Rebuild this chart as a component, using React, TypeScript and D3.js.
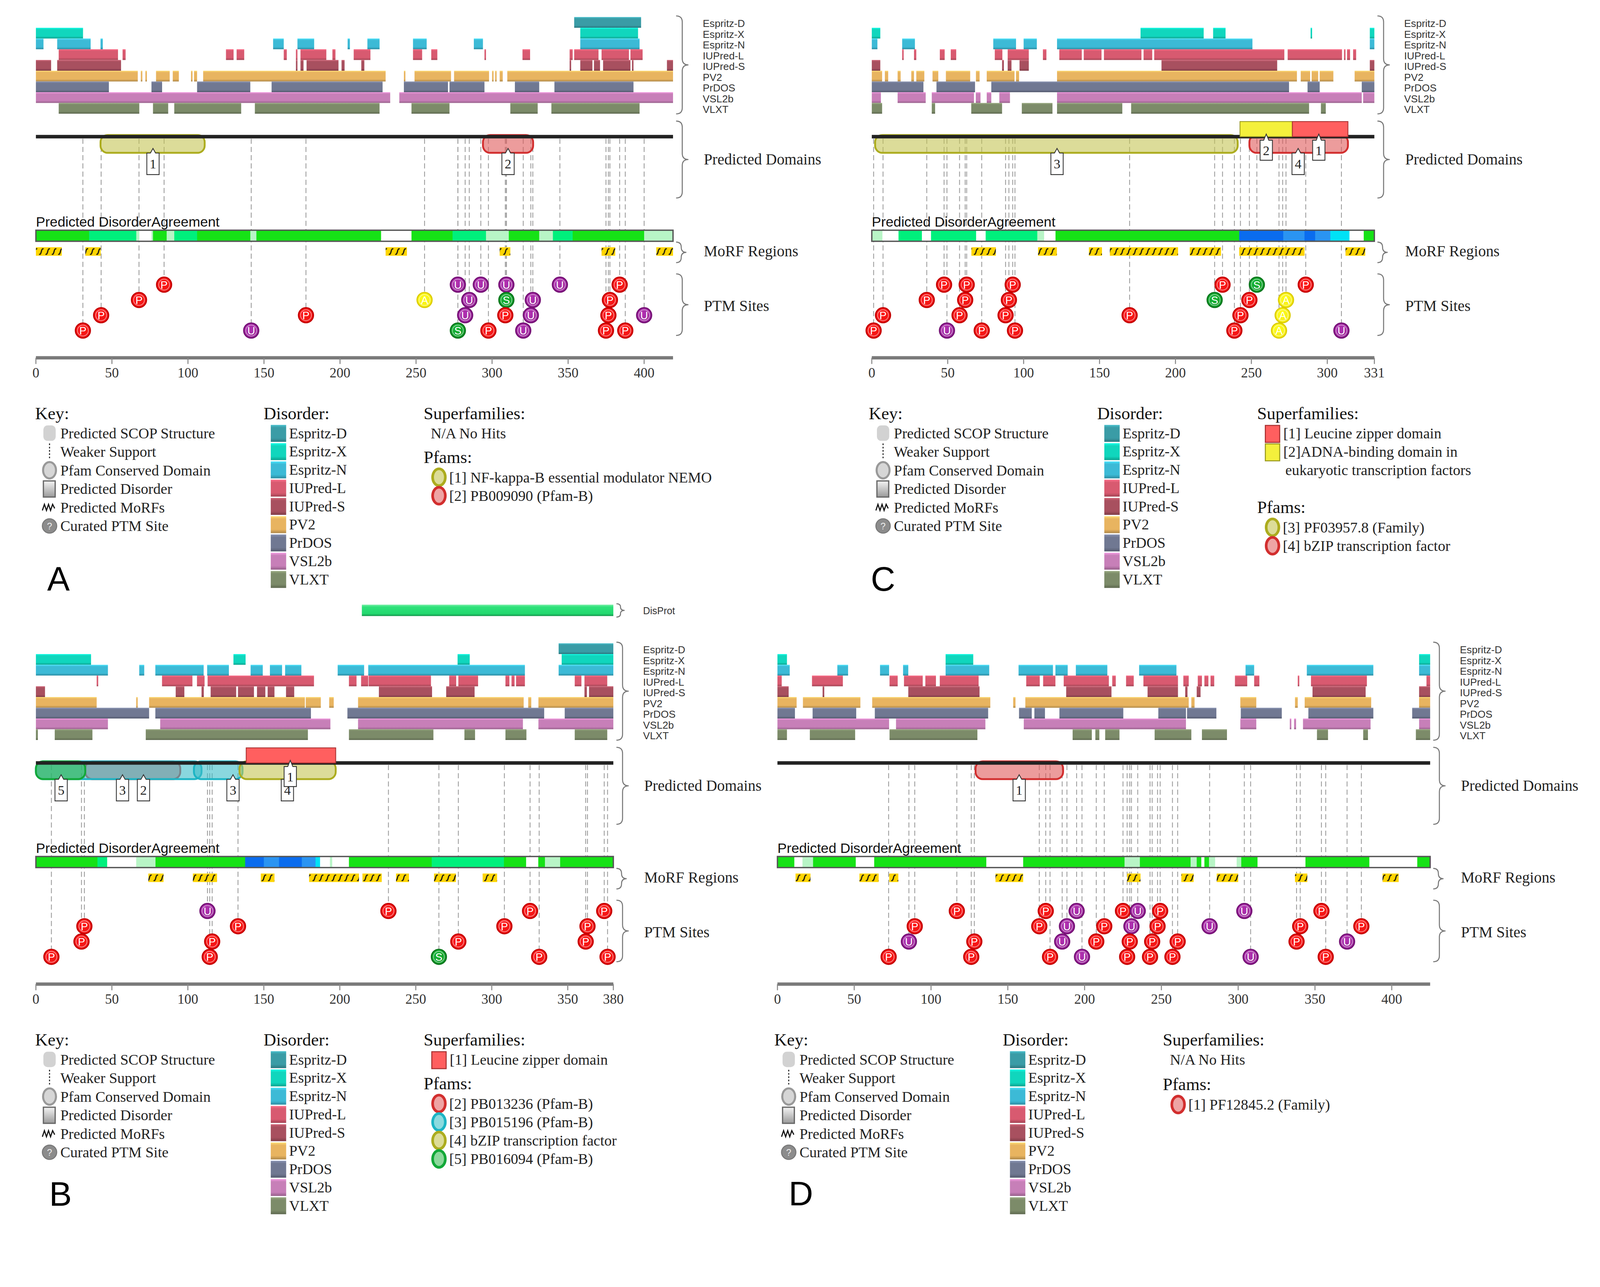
import * as d3 from 'd3';

type Seg = [number, number];
type Agree = [number, number, number]; // start, end, agreement level
type Ptm = [number, number, string]; // position, row, type
type Dom = [number, number, number, string, number]; // start, end, id, family, label position
type LegendEntry = [number, string, string]; // id, text, family

// ---------- shared ----------
const predictorNames = ['Espritz-D', 'Espritz-X', 'Espritz-N', 'IUPred-L', 'IUPred-S', 'PV2', 'PrDOS', 'VSL2b', 'VLXT'];
const predictorColors = ['#3a9ca6', '#10d6bd', '#3cbad6', '#d85a70', '#a8505f', '#e8b460', '#707892', '#c77fb8', '#7c8b69'];
const keyItems = ['Predicted SCOP Structure', 'Weaker Support', 'Pfam Conserved Domain', 'Predicted Disorder', 'Predicted MoRFs', 'Curated PTM Site'];

// ---------- panel A ----------
const lengthA = 419;
const ticksA = [0, 50, 100, 150, 200, 250, 300, 350, 400];
const tracksA: Seg[][] = [
  [[354, 398]],
  [[0, 31], [358, 396]],
  [[0, 5], [14, 36], [42.5, 44], [156, 163], [172, 183], [205, 206.5], [218, 226], [248, 257], [288, 294], [358, 397]],
  [[15, 54], [57, 59], [125, 130], [132, 137], [163, 165], [171, 172], [174, 191], [195, 197], [209, 220], [248, 254], [260, 264], [295, 296], [320, 325], [351, 353], [354, 370], [372, 390], [391, 399]],
  [[0, 10], [14, 56], [171, 172], [174, 176], [178, 199], [201, 203], [214, 216], [351, 352], [358, 366], [367, 371], [373, 391], [392, 393], [415, 419]],
  [[0, 67], [69, 70], [72, 73], [79, 88], [90, 94], [102, 103], [104, 106], [110, 230], [242, 243], [249, 273], [275, 298], [300, 301], [302, 303], [305, 307], [310, 419]],
  [[0, 48], [76, 83], [106, 141], [155, 228], [242, 271], [272, 295], [315, 331], [341, 393]],
  [[0, 233], [239, 419]],
  [[15, 68], [77, 87], [91, 135], [144, 226], [247, 272], [312, 330], [339, 397]],
];
const agreeA: Agree[] = [
  [0, 35, 3], [35, 66, 2], [66, 68, 1], [68, 76, 0], [76, 77, 1], [77, 86, 3], [86, 91, 1], [91, 106, 2],
  [106, 141, 3], [141, 145, 1], [145, 200, 3], [200, 227, 3], [227, 247, 0], [247, 274, 3], [274, 296, 2],
  [296, 311, 1], [311, 331, 3], [331, 340, 1], [340, 353, 2], [353, 400, 3], [400, 419, 1],
];
const morfA: Seg[] = [[0, 17], [32.5, 42.6], [230, 244], [305, 312], [372, 381], [408, 419]];
const ptmA: Ptm[] = [
  [84.3, 0, 'P'], [277.5, 0, 'U'], [292.6, 0, 'U'], [309.4, 0, 'U'], [344.6, 0, 'U'], [383.9, 0, 'P'],
  [67.8, 1, 'P'], [255.6, 1, 'A'], [285, 1, 'U'], [309.4, 1, 'S'], [326.8, 1, 'U'], [377.5, 1, 'P'],
  [42.9, 2, 'P'], [177.6, 2, 'P'], [282.3, 2, 'U'], [308.7, 2, 'P'], [325.5, 2, 'U'], [376.5, 2, 'P'], [400, 2, 'U'],
  [30.9, 3, 'P'], [141.6, 3, 'U'], [277.5, 3, 'S'], [297.6, 3, 'P'], [320.5, 3, 'U'], [374.9, 3, 'P'], [387.6, 3, 'P'],
];
const pfamA: Dom[] = [[42.5, 111, 1, 'olive', 77], [294, 327, 2, 'red', 310.5]];
const superA: Dom[] = [];
const superLegendA: LegendEntry[] = [];
const pfamLegendA: LegendEntry[] = [[1, 'NF-kappa-B essential modulator NEMO', 'olive'], [2, 'PB009090 (Pfam-B)', 'red']];

// ---------- panel C ----------
const lengthC = 331;
const ticksC = [0, 50, 100, 150, 200, 250, 300, 331];
const tracksC: Seg[][] = [
  [],
  [[0, 5.6], [177, 218.6], [224.8, 233], [289, 290], [328, 331]],
  [[0, 3.7], [20, 28.4], [80, 95], [100, 108.7], [122, 250.7], [328, 331]],
  [[20, 21], [27.8, 29.3], [44.8, 48], [52, 55.6], [81, 86], [89.5, 103.4], [112.7, 115], [123.5, 138.3], [139.6, 151.3], [152.9, 177.6], [179, 184.7], [186, 271.7], [273.9, 309.7], [311, 312], [313, 315], [317, 319]],
  [[0, 5.6], [85.8, 87], [89.5, 92], [97.3, 103.4], [190.8, 267], [328, 331]],
  [[0, 6.8], [8.6, 10.8], [17, 19], [26, 27.8], [29.3, 34.6], [40, 43.8], [48.8, 64.8], [68.6, 71], [75.7, 94], [95, 97], [122, 280], [282.5, 288.7], [289.7, 294], [295, 304], [318, 331]],
  [[0, 34], [42.6, 68], [78.7, 274.8], [287, 295], [322.7, 331]],
  [[0, 6], [17, 35.5], [39.5, 67.3], [68.5, 71.6], [75.7, 78.7], [84, 91], [122, 322.7], [323.6, 331]],
  [[0, 6.8], [39.5, 41.7], [65.5, 85.8], [98.8, 119], [122, 165], [170.8, 288], [295.8, 299]],
];
const agreeC: Agree[] = [
  [0, 7, 1], [7, 17.6, 0], [17.6, 33, 2], [33, 39, 0], [39, 68.7, 2], [68.7, 75, 0], [75, 109, 2], [109, 113.5, 1],
  [113.5, 121, 0], [121, 242, 3], [242, 271, 5], [271, 285, 6], [285, 292, 5], [292, 302, 6], [302, 314.6, 4],
  [314.6, 324, 0], [324, 331, 3],
];
const morfC: Seg[] = [[65.6, 81.7], [109.5, 121.9], [143, 151.6], [156.8, 201.7], [209.4, 230], [242, 285], [312, 325]];
const ptmC: Ptm[] = [
  [47.6, 0, 'P'], [62.5, 0, 'P'], [92.8, 0, 'P'], [231, 0, 'P'], [253.6, 0, 'S'], [285.8, 0, 'P'],
  [36.2, 1, 'P'], [61.5, 1, 'P'], [90.3, 1, 'P'], [225.8, 1, 'S'], [248.7, 1, 'P'], [272.8, 1, 'A'],
  [7.4, 2, 'P'], [57.8, 2, 'P'], [88.1, 2, 'P'], [169.8, 2, 'P'], [242.8, 2, 'P'], [270.6, 2, 'A'],
  [1.2, 3, 'P'], [49.5, 3, 'U'], [72.4, 3, 'P'], [94.3, 3, 'P'], [238.8, 3, 'P'], [268.2, 3, 'A'], [309.3, 3, 'U'],
];
const pfamC: Dom[] = [[2.2, 241, 3, 'olive', 122], [248.7, 313.6, 4, 'red', 280.8]];
const superC: Dom[] = [[242.5, 277, 2, 'yellow', 259.8], [277, 313.6, 1, 'red', 294.4]];
const superLegendC: LegendEntry[] = [[1, 'Leucine zipper domain', 'red'], [2, 'ADNA-binding domain in|eukaryotic transcription factors', 'yellow']];
const pfamLegendC: LegendEntry[] = [[3, 'PF03957.8 (Family)', 'olive'], [4, 'bZIP transcription factor', 'red']];

// ---------- panel B ----------
const lengthB = 380;
const ticksB = [0, 50, 100, 150, 200, 250, 300, 350, 380];
const disprotB: Seg[] = [[214.5, 380]];
const tracksB: Seg[][] = [
  [[344, 380]],
  [[0, 36.3], [130, 138], [277.5, 285.5], [346, 380]],
  [[0, 47.4], [68, 71.3], [78.6, 110.4], [112.7, 127], [141.3, 149.3], [154, 162], [164, 174.7], [198.6, 216], [218.7, 321.8], [344, 380]],
  [[40, 41], [83, 103], [106, 111], [113, 183], [206, 211], [214, 218.7], [219, 260], [272, 276.6], [278, 291], [309, 311.6], [313, 315], [316, 321.8], [354.6, 359], [361, 376]],
  [[0, 6], [92, 97.7], [109, 110.5], [115, 131.8], [133, 143.5], [145.5, 151], [152.5, 157], [164.6, 170], [225.7, 260.7], [270, 288.7], [361, 362.6], [364, 380]],
  [[0, 40], [66, 67], [74.5, 177], [177.6, 187.5], [193, 196], [212, 321], [324, 326], [330.7, 380]],
  [[0, 74.5], [78.6, 181], [205, 334.5], [348, 380]],
  [[0, 47.4], [81.8, 193.8], [212, 320.5], [330.7, 380]],
  [[0, 1.3], [12.4, 37.2], [72.3, 179], [206, 261.6], [282, 289], [309, 322.8], [354.6, 376]],
];
const agreeB: Agree[] = [
  [0, 40.5, 3], [40.5, 46.9, 2], [46.9, 66, 0], [66, 78.7, 1], [78.7, 137.7, 3], [137.7, 150, 5], [150, 160, 6],
  [160, 175, 5], [175, 184, 6], [184, 187, 4], [187, 193.5, 0], [193.5, 195, 1], [195, 206, 0], [206, 260.5, 3],
  [260.5, 290.7, 2], [290.7, 308, 2], [308, 322.6, 3], [322.6, 330.6, 0], [330.6, 335, 3], [335, 345, 1], [345, 380, 3],
];
const morfB: Seg[] = [[74, 84], [103.3, 119.2], [148, 157], [179.8, 212.6], [214.9, 227.6], [237, 245.5], [262, 276.4], [294, 303.5]];
const ptmB: Ptm[] = [
  [112.9, 0, 'U'], [232, 0, 'P'], [325.2, 0, 'P'], [374, 0, 'P'],
  [31.9, 1, 'P'], [133, 1, 'P'], [308.3, 1, 'P'], [363, 1, 'P'],
  [30, 2, 'P'], [116, 2, 'P'], [278, 2, 'P'], [361.8, 2, 'P'],
  [10.2, 3, 'P'], [114.4, 3, 'P'], [265.2, 3, 'S'], [331.2, 3, 'P'], [376.2, 3, 'P'],
];
const pfamB: Dom[] = [
  [32.5, 95, 2, 'red', 70.8], [0, 109, 3, 'cyan', 57], [104, 136, 3, 'cyan', 129.7],
  [0, 32.5, 5, 'green', 16.6], [134, 197.3, 4, 'olive', 165.5],
];
const superB: Dom[] = [[138.4, 197.3, 1, 'red', 167.4]];
const superLegendB: LegendEntry[] = [[1, 'Leucine zipper domain', 'red']];
const pfamLegendB: LegendEntry[] = [
  [2, 'PB013236 (Pfam-B)', 'red'], [3, 'PB015196 (Pfam-B)', 'cyan'],
  [4, 'bZIP transcription factor', 'olive'], [5, 'PB016094 (Pfam-B)', 'green'],
];

// ---------- panel D ----------
const lengthD = 425;
const ticksD = [0, 50, 100, 150, 200, 250, 300, 350, 400];
const tracksD: Seg[][] = [
  [],
  [[0, 6.2], [109.5, 127.5], [417.8, 425]],
  [[0, 8], [39, 46], [66.8, 72.7], [81.8, 85.2], [109.5, 137.9], [157, 179.4], [181, 189], [194.3, 214.8], [235.5, 259.8], [304.8, 310.4], [344.7, 388], [417.8, 425]],
  [[0, 2.8], [22.5, 42.6], [73, 78.3], [82.4, 94.6], [96.3, 103.2], [105.7, 131], [162, 170.8], [173, 181], [186.4, 215.8], [218, 220.3], [227, 232], [238.3, 260.8], [264.3, 267.8], [273.7, 276.4], [278, 280.6], [282, 284.4], [297.9, 305.9], [310.4, 313.8], [338.8, 339.8], [347.4, 383.8], [422.6, 425]],
  [[0, 7.3], [29.4, 30.5], [85.2, 131.6], [188, 217.5], [241, 260.8], [265.5, 267], [273, 275.5], [348.4, 383], [417.8, 425]],
  [[0, 12.5], [16.6, 54], [61.7, 138.6], [153.5, 155], [161.4, 267.8], [269.5, 271.6], [301.4, 311.8], [337, 338.8], [343.3, 386.6], [417.8, 425]],
  [[0, 11.4], [22.9, 51.3], [63.4, 137.2], [157.3, 165.6], [167.3, 174.2], [183.6, 225.2], [248, 266], [266.7, 285.8], [301.7, 328.4], [345.7, 388], [413.3, 425]],
  [[0, 72.7], [77.2, 135.4], [160.4, 266], [301.4, 311.8], [333.6, 334.6], [336.4, 337.7], [342.2, 386.2], [417.8, 425]],
  [[0, 6.2], [21.1, 50.6], [73, 130.2], [192.2, 204.7], [207, 209.6], [213.4, 222.7], [245.6, 269.5], [276.4, 292.7], [351.3, 358.5], [381.4, 384.5], [415.7, 425]],
];
const agreeD: Agree[] = [
  [0, 11, 3], [11, 16.3, 0], [16.3, 23.2, 1], [23.2, 51, 3], [51, 63, 0], [63, 100, 3], [100, 136, 3], [136, 160, 0],
  [160, 226, 3], [226, 236, 1], [236, 269, 3], [269, 273, 1], [273, 276, 3], [276, 278, 0], [278, 281, 3],
  [281, 285, 1], [285, 299, 0], [299, 302, 1], [302, 312.6, 3], [312.6, 343.8, 0], [343.8, 385.4, 3],
  [385.4, 416.6, 0], [416.6, 425, 3],
];
const morfD: Seg[] = [[11.8, 21.5], [53.4, 65.9], [72.8, 78.7], [142, 160], [227.7, 236.4], [263, 271], [286, 300], [337, 345], [394, 404.5]];
const ptmD: Ptm[] = [
  [116.8, 0, 'P'], [174.7, 0, 'P'], [194.8, 0, 'U'], [225, 0, 'P'], [234.6, 0, 'U'], [249.2, 0, 'P'], [304, 0, 'U'], [354.2, 0, 'P'],
  [89.4, 1, 'P'], [170.5, 1, 'P'], [188.5, 1, 'U'], [212.8, 1, 'P'], [230.5, 1, 'U'], [247.5, 1, 'P'], [281.4, 1, 'U'], [340.4, 1, 'P'], [380.2, 1, 'P'],
  [85.6, 2, 'U'], [128.2, 2, 'P'], [185.4, 2, 'U'], [207.6, 2, 'P'], [229.4, 2, 'P'], [244, 2, 'P'], [260.6, 2, 'P'], [338, 2, 'P'], [370.9, 2, 'U'],
  [72.4, 3, 'P'], [126.2, 3, 'P'], [177.5, 3, 'P'], [198.3, 3, 'U'], [227.7, 3, 'P'], [242.6, 3, 'P'], [257.2, 3, 'P'], [308.1, 3, 'U'], [357, 3, 'P'],
];
const pfamD: Dom[] = [[129, 186, 1, 'red', 157.4]];
const superD: Dom[] = [];
const superLegendD: LegendEntry[] = [];
const pfamLegendD: LegendEntry[] = [[1, 'PF12845.2 (Family)', 'red']];

// ---------- styles & layout ----------
const W = 1560;
const H = 1217.1;
const SERIF = '"Liberation Serif", "Times New Roman", serif';
const SANS = '"Liberation Sans", Arial, sans-serif';
const TRACK_TOP = 16.6;
const ROW_H = 10.47;
const LINE_Y = 133.2;
const PFAM_TOP = 131.6;
const PFAM_BOT = 149;
const SUPER_TOP = 118.5;
const AG_TOP = 224.4;
const AG_H = 10.8;
const MORF_TOP = 241;
const MORF_H = 8.3;
const AXIS_Y = 348.8;
const PTM_R = 7.3;
const LEG_Y = 408.7;

const famStyle: Record<string, { fill: string; stroke: string; icon: string }> = {
  olive: { fill: '#c4c455', stroke: '#acac1e', icon: '#dcdc98' },
  red: { fill: '#e05a5a', stroke: '#d22e2e', icon: '#eea4a4' },
  cyan: { fill: '#3cbcc8', stroke: '#1cb4c4', icon: '#8cdade' },
  green: { fill: '#22b048', stroke: '#12a838', icon: '#8cd89c' },
};
const superStyle: Record<string, { fill: string; stroke: string }> = {
  red: { fill: '#ff5f5f', stroke: '#a83030' },
  yellow: { fill: '#f4f03c', stroke: '#9a9a20' },
};
const ptmStyle: Record<string, { fill: string; stroke: string }> = {
  P: { fill: '#ee1414', stroke: '#c40000' },
  U: { fill: '#962896', stroke: '#741074' },
  S: { fill: '#129a2c', stroke: '#0a761c' },
  A: { fill: '#f4ea16', stroke: '#dccc00' },
};
const agreeColor = d3.scaleOrdinal<number, string>()
  .domain([0, 1, 2, 3, 4, 5, 6])
  .range(['#ffffff', '#b8f5c6', '#00f07c', '#16e216', '#00e2f6', '#0a6cee', '#2a94f2']);

interface PanelDef {
  len: number; x0: number; x1: number; dy: number; lx: number; letter: string; lpos: [number, number];
  tracks: Seg[][]; agree: Agree[]; morfs: Seg[]; ptms: Ptm[]; pfams: Dom[]; supers: Dom[]; ticks: number[];
  superLegend: LegendEntry[]; pfamLegend: LegendEntry[]; pfamGap: number; disprot?: Seg[];
}

const panels: PanelDef[] = [
  { len: lengthA, x0: 35, x1: 656.2, dy: 0, lx: 34.3, letter: 'A', lpos: [46, 576], tracks: tracksA, agree: agreeA, morfs: morfA, ptms: ptmA, pfams: pfamA, supers: superA, ticks: ticksA, superLegend: superLegendA, pfamLegend: pfamLegendA, pfamGap: 6 },
  { len: lengthC, x0: 850, x1: 1340, dy: 0, lx: 847, letter: 'C', lpos: [849, 576], tracks: tracksC, agree: agreeC, morfs: morfC, ptms: ptmC, pfams: pfamC, supers: superC, ticks: ticksC, superLegend: superLegendC, pfamLegend: pfamLegendC, pfamGap: 18.8 },
  { len: lengthB, x0: 35, x1: 598, dy: 610.5, lx: 34.3, letter: 'B', lpos: [48, 1175.5], tracks: tracksB, agree: agreeB, morfs: morfB, ptms: ptmB, pfams: pfamB, supers: superB, ticks: ticksB, superLegend: superLegendB, pfamLegend: pfamLegendB, pfamGap: 6, disprot: disprotB },
  { len: lengthD, x0: 758, x1: 1394.4, dy: 610.5, lx: 755, letter: 'D', lpos: [769, 1175], tracks: tracksD, agree: agreeD, morfs: morfD, ptms: ptmD, pfams: pfamD, supers: superD, ticks: ticksD, superLegend: superLegendD, pfamLegend: pfamLegendD, pfamGap: 7 },
];

function Brace({ x, y1, y2, w = 12 }: { x: number; y1: number; y2: number; w?: number }) {
  const m = (y1 + y2) / 2;
  const h = w / 2;
  const q = Math.min(6, (y2 - y1) / 4);
  const d = `M${x},${y1} Q${x + h},${y1} ${x + h},${y1 + q} L${x + h},${m - q} Q${x + h},${m} ${x + w},${m} ` +
    `Q${x + h},${m} ${x + h},${m + q} L${x + h},${y2 - q} Q${x + h},${y2} ${x},${y2}`;
  return <path d={d} fill="none" stroke="#777" strokeWidth={1} />;
}

function labelPath(cx: number, tip: number, top: number, bot: number) {
  const w = 6;
  return `M${cx - w},${top} L${cx - 2.5},${top} L${cx},${tip} L${cx + 2.5},${top} L${cx + w},${top} L${cx + w},${bot} L${cx - w},${bot} Z`;
}

function Panel({ p }: { p: PanelDef }) {
  const x = d3.scaleLinear().domain([0, p.len]).range([p.x0, p.x1]);
  const rows = d3.scaleBand<string>().domain(predictorNames).range([TRACK_TOP, TRACK_TOP + 9 * ROW_H]);
  const ptmY = d3.scaleLinear().domain([0, 3]).range([277.5, 322.2]);
  const lx = p.x1 + 29;
  const bx = p.x1 + 3;

  return (
    <g transform={`translate(0,${p.dy})`}>
      {p.disprot && (
        <g>
          {p.disprot.map(([s, e], i) => (
            <rect key={i} x={x(s)} y={-21.1} width={x(e) - x(s)} height={11.1} fill="url(#disprot)" />
          ))}
          <Brace x={bx} y1={-22} y2={-9} w={8} />
          <text x={lx} y={-11.8} fontFamily={SANS} fontSize={9.5} fill="#333">DisProt</text>
        </g>
      )}

      {p.tracks.map((segs, i) => segs.map(([s, e], j) => (
        <rect key={`t${i}-${j}`} x={x(s)} y={rows(predictorNames[i])} width={Math.max(0.7, x(e) - x(s))}
          height={rows.bandwidth()} fill={`url(#pg${i})`} />
      )))}
      <Brace x={bx} y1={15.5} y2={111} />
      {predictorNames.map((n) => (
        <text key={n} x={lx} y={rows(n)! + rows.bandwidth() / 2 + 4.6} fontFamily={SANS} fontSize={10} fill="#333">{n}</text>
      ))}

      {p.ptms.map(([pos, row], i) => (
        <line key={`l${i}`} x1={x(pos)} x2={x(pos)} y1={LINE_Y + 2} y2={ptmY(row) - PTM_R}
          stroke="#9a9a9a" strokeWidth={0.8} strokeDasharray="5 3" />
      ))}

      {p.pfams.map(([s, e, , fam], i) => (
        <rect key={`pf${i}`} x={x(s)} y={PFAM_TOP} width={x(e) - x(s)} height={PFAM_BOT - PFAM_TOP} rx={7} ry={7}
          fill={famStyle[fam].fill} fillOpacity={0.6} stroke={famStyle[fam].stroke} strokeWidth={1.8} />
      ))}
      <line x1={p.x0} x2={p.x1} y1={LINE_Y} y2={LINE_Y} stroke="#222" strokeWidth={3.4} />
      {p.supers.map(([s, e, , fam], i) => (
        <rect key={`sf${i}`} x={x(s)} y={SUPER_TOP} width={x(e) - x(s)} height={LINE_Y - SUPER_TOP}
          fill={superStyle[fam].fill} stroke={superStyle[fam].stroke} strokeWidth={0.8} />
      ))}
      {p.pfams.map(([, , id, , lp], i) => (
        <g key={`pl${i}`}>
          <path d={labelPath(x(lp), LINE_Y + 11.5, LINE_Y + 16, LINE_Y + 37)} fill="#fff" stroke="#333" strokeWidth={0.8} />
          <text x={x(lp)} y={LINE_Y + 31} textAnchor="middle" fontFamily={SERIF} fontSize={13} fill="#222">{id}</text>
        </g>
      ))}
      {p.supers.map(([, , id, , lp], i) => (
        <g key={`sl${i}`}>
          <path d={labelPath(x(lp), LINE_Y - 2.5, LINE_Y + 3.5, LINE_Y + 23)} fill="#fff" stroke="#333" strokeWidth={0.8} />
          <text x={x(lp)} y={LINE_Y + 18} textAnchor="middle" fontFamily={SERIF} fontSize={13} fill="#222">{id}</text>
        </g>
      ))}
      <Brace x={bx} y1={118} y2={193} />
      <text x={lx + 1} y={160.5} fontFamily={SERIF} fontSize={15} fill="#222">Predicted Domains</text>

      <text x={p.x0} y={220.8} fontFamily={SANS} fontSize={13.6} fill="#111">Predicted DisorderAgreement</text>
      {p.agree.map(([s, e, lvl], i) => (
        <rect key={`a${i}`} x={x(s)} y={AG_TOP} width={x(e) - x(s) + 0.3} height={AG_H} fill={agreeColor(lvl)} />
      ))}
      <rect x={p.x0} y={AG_TOP} width={p.x1 - p.x0} height={AG_H} fill="none" stroke="#555" strokeWidth={1.3} />

      {p.morfs.map(([s, e], i) => (
        <rect key={`m${i}`} x={x(s)} y={MORF_TOP} width={x(e) - x(s)} height={MORF_H} fill="url(#morf)" />
      ))}
      <Brace x={bx} y1={236} y2={256} w={10} />
      <text x={lx + 1} y={249.8} fontFamily={SERIF} fontSize={15} fill="#222">MoRF Regions</text>

      {p.ptms.map(([pos, row, t], i) => (
        <g key={`p${i}`} transform={`translate(${x(pos)},${ptmY(row)})`}>
          <circle r={PTM_R} fill={`url(#ptm${t})`} stroke={ptmStyle[t].stroke} strokeWidth={1.2} />
          <circle r={PTM_R - 2} fill="none" stroke="#fff" strokeOpacity={0.55} strokeWidth={0.7} />
          <text y={3.8} textAnchor="middle" fontFamily={SANS} fontSize={10.5} fill="#fff">{t}</text>
        </g>
      ))}
      <Brace x={bx} y1={267} y2={327} />
      <text x={lx + 1} y={303} fontFamily={SERIF} fontSize={15} fill="#222">PTM Sites</text>

      <line x1={p.x0} x2={p.x1} y1={AXIS_Y} y2={AXIS_Y} stroke="#7a7a7a" strokeWidth={3.2} />
      {p.ticks.map((t) => (
        <g key={`k${t}`}>
          <line x1={x(t)} x2={x(t)} y1={AXIS_Y} y2={AXIS_Y + 6} stroke="#888" strokeWidth={1} />
          <text x={x(t)} y={368} textAnchor="middle" fontFamily={SERIF} fontSize={13.5} fill="#333">{t}</text>
        </g>
      ))}

      <Legend p={p} />
    </g>
  );
}

function Legend({ p }: { p: PanelDef }) {
  const kx = p.lx;
  const dx = p.lx + 222.7;
  const sx = p.lx + 378.7;
  const keyY = d3.scaleLinear().domain([0, 1]).range([LEG_Y + 18.5, LEG_Y + 36.6]);
  const disY = d3.scaleLinear().domain([0, 1]).range([LEG_Y + 18.5, LEG_Y + 36.3]);
  const txt = { fontFamily: SERIF, fontSize: 14.5, fill: '#222' };
  const head = { fontFamily: SERIF, fontSize: 17, fill: '#111' };

  const icon = (i: number, y: number) => {
    const c = kx + 14;
    switch (i) {
      case 0: return <rect x={c - 6} y={y - 12.5} width={12} height={15} rx={4} fill="#d2d2d2" />;
      case 1: return <line x1={c} x2={c} y1={y - 13} y2={y + 3} stroke="#222" strokeWidth={1} strokeDasharray="1.6 1.6" />;
      case 2: return <ellipse cx={c} cy={y - 5} rx={6.3} ry={8} fill="#d6d6d6" stroke="#999" strokeWidth={2} />;
      case 3: return <rect x={c - 6} y={y - 12.7} width={11.5} height={15.7} fill="url(#pdis)" stroke="#666" strokeWidth={1.2} />;
      case 4: return <path d={`M${c - 7},${y - 2} l2,-6 l2,6 l2,-6 l2,6 l2,-6 l2,4`} fill="none" stroke="#111" strokeWidth={1.1} />;
      default: return (
        <g>
          <circle cx={c} cy={y - 5} r={7} fill="#8c8c8c" stroke="#777" strokeWidth={1} />
          <text x={c} y={y - 1.5} textAnchor="middle" fontFamily={SANS} fontSize={9} fill="#eee">?</text>
        </g>
      );
    }
  };

  let y = LEG_Y + 18.5;
  const superRows: JSX.Element[] = [];
  if (p.superLegend.length === 0) {
    superRows.push(<text key="na" x={sx + 7} y={y} {...txt}>N/A No Hits</text>);
    y += 18;
  } else {
    p.superLegend.forEach(([id, label, fam]) => {
      const lines = label.split('|');
      superRows.push(
        <rect key={`ss${id}`} x={sx + 8} y={y - 12.5} width={14} height={16.5}
          fill={superStyle[fam].fill} stroke={superStyle[fam].stroke} strokeWidth={1} />,
      );
      lines.forEach((ln, k) => {
        superRows.push(
          <text key={`st${id}-${k}`} x={sx + 25.5 + (k > 0 ? 2 : 0)} y={y} {...txt}>
            {k === 0 ? `[${id}]${fam === 'yellow' ? '' : ' '}${ln}` : ln}
          </text>,
        );
        y += 18;
      });
    });
  }
  y += p.pfamGap;
  const pfamHead = y;
  const pfamStart = y + 19;

  return (
    <g>
      <text x={kx} y={LEG_Y} {...head}>Key:</text>
      {keyItems.map((k, i) => (
        <g key={k}>
          {icon(i, keyY(i))}
          <text x={kx + 24.5} y={keyY(i)} {...txt}>{k}</text>
        </g>
      ))}

      <text x={dx} y={LEG_Y} {...head}>Disorder:</text>
      {predictorNames.map((n, i) => (
        <g key={n}>
          <rect x={dx + 7} y={disY(i) - 13} width={15} height={16.5} fill={`url(#pg${i})`} />
          <text x={dx + 24.8} y={disY(i)} {...txt}>{n}</text>
        </g>
      ))}

      <text x={sx} y={LEG_Y} {...head}>Superfamilies:</text>
      {superRows}
      <text x={sx} y={pfamHead} {...head}>Pfams:</text>
      {p.pfamLegend.map(([id, label, fam], i) => {
        const yy = pfamStart + i * 18;
        return (
          <g key={`pl${id}`}>
            <ellipse cx={sx + 15} cy={yy - 5} rx={6.2} ry={8.2} fill={famStyle[fam].icon} stroke={famStyle[fam].stroke} strokeWidth={2.6} />
            <text x={sx + 25} y={yy} {...txt}>{`[${id}] ${label}`}</text>
          </g>
        );
      })}
    </g>
  );
}

export default function App() {
  return (
    <svg viewBox={`0 0 ${W} ${H}`} preserveAspectRatio="xMinYMin meet"
      style={{ position: 'absolute', left: 0, top: 0, width: '100vw', height: '100vh', display: 'block', background: '#fff' }}>
      <defs>
        {predictorColors.map((c, i) => {
          const base = d3.color(c)!;
          return (
            <linearGradient key={c} id={`pg${i}`} x1="0" y1="0" x2="0" y2="1">
              <stop offset="0" stopColor={base.brighter(0.6).formatHex()} />
              <stop offset="0.16" stopColor={c} />
              <stop offset="0.78" stopColor={c} />
              <stop offset="1" stopColor={base.darker(0.8).formatHex()} />
            </linearGradient>
          );
        })}
        <linearGradient id="disprot" x1="0" y1="0" x2="0" y2="1">
          <stop offset="0" stopColor="#7af0a8" />
          <stop offset="0.2" stopColor="#2ee27a" />
          <stop offset="0.8" stopColor="#22d86e" />
          <stop offset="1" stopColor="#139048" />
        </linearGradient>
        <linearGradient id="pdis" x1="0" y1="0" x2="0" y2="1">
          <stop offset="0" stopColor="#f4f4f4" />
          <stop offset="1" stopColor="#9a9a9a" />
        </linearGradient>
        {Object.entries(ptmStyle).map(([t, s]) => (
          <radialGradient key={t} id={`ptm${t}`} cx="0.42" cy="0.38" r="0.65">
            <stop offset="0" stopColor={d3.color(s.fill)!.brighter(0.5).formatHex()} />
            <stop offset="1" stopColor={s.fill} />
          </radialGradient>
        ))}
        <pattern id="morf" patternUnits="userSpaceOnUse" x={0} y={MORF_TOP} width={6.2} height={MORF_H}>
          <rect width={6.2} height={MORF_H} fill="#ffd500" />
          <path d="M1,6.6 C2,7.6 2.7,6 3.1,4.2 C3.5,2.4 4.1,0.9 5.3,1.7" fill="none" stroke="#111" strokeWidth={1.1} />
        </pattern>
      </defs>
      <rect width={W} height={H} fill="#fff" />
      {panels.map((p) => <Panel key={p.letter} p={p} />)}
      {panels.map((p) => (
        <text key={`L${p.letter}`} x={p.lpos[0]} y={p.lpos[1]} fontFamily={SANS} fontSize={33} fill="#000">{p.letter}</text>
      ))}
    </svg>
  );
}
